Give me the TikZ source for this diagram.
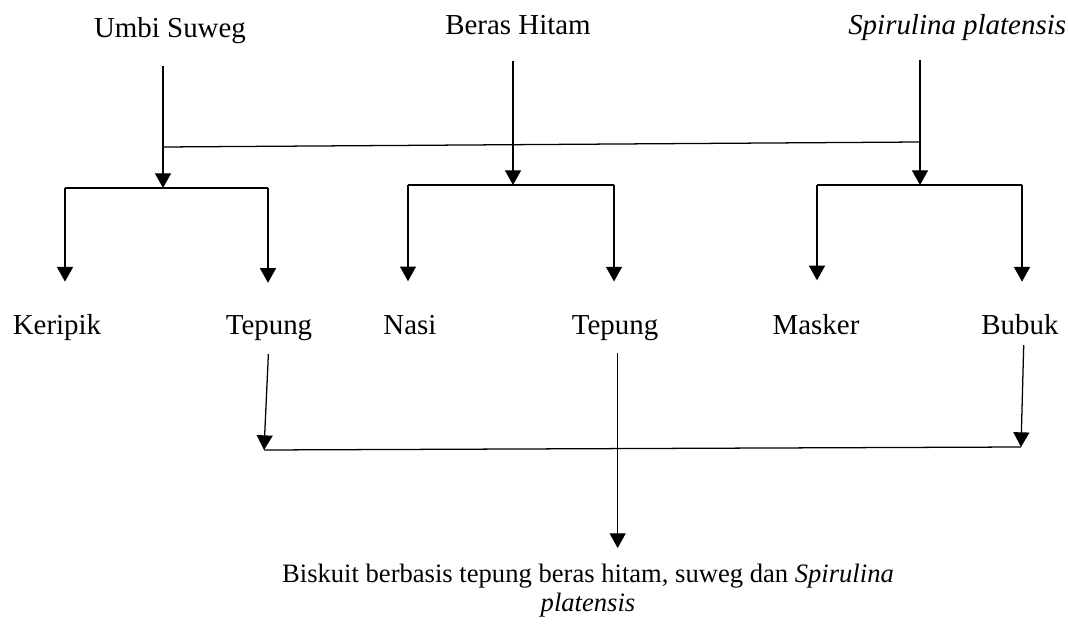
\documentclass[tikz,border=0pt]{standalone}
\usepackage{fontspec}
\setmainfont{Liberation Serif}
\usetikzlibrary{arrows.meta}

\newcommand{\labsize}{\fontsize{21.7}{26}\selectfont}
\newcommand{\botsize}{\fontsize{19.95}{21.75}\selectfont}

\tikzset{
  lab/.style={font=\labsize, inner sep=0pt, anchor=base},
  arr/.style={-{Triangle[width=12pt,length=11pt]}, line width=0.95pt},
  bus/.style={line width=0.95pt},
}

\begin{document}
\begin{tikzpicture}[x=0.75pt,y=-0.75pt]
  \useasboundingbox (0,0) rectangle (1068,624);

  % bahan baku
  \node[lab] (umbi) at (170,38) {Umbi Suweg};
  \node[lab] (beras) at (518,35) {Beras Hitam};
  \node[lab, anchor=base west] (spir) at (848,35) {\textit{Spirulina platensis}};

  % produk
  \node[lab] (keripik) at (57,334) {Keripik};
  \node[lab] (tepA) at (269,334) {Tepung};
  \node[lab] (nasi) at (410,334) {Nasi};
  \node[lab] (tepB) at (615,334) {Tepung};
  \node[lab] (masker) at (816,334) {Masker};
  \node[lab] (bubuk) at (1020,334) {Bubuk};

  \node[font=\botsize, inner sep=0pt, align=center, anchor=north] (biskuit) at (588,564)
    {Biskuit berbasis tepung beras hitam, suweg dan \textit{Spirulina}\\\textit{platensis}};

  % titik cabang
  \coordinate (cu) at (163,147);
  \coordinate (cs) at (920,142);
  \coordinate (ju) at (163,188);
  \coordinate (jb) at (513,185);
  \coordinate (js) at (920,185);
  \coordinate (ku) at (65,188);
  \coordinate (tu) at (268,188);
  \coordinate (nb) at (408,185);
  \coordinate (tb) at (614,185);
  \coordinate (ms) at (817,185);
  \coordinate (bs) at (1022,185);
  \coordinate (ba) at (264,450);
  \coordinate (bb) at (1021,447);

  % dari bahan baku
  \draw[arr, shorten <=16pt] (umbi.south -| ju) -- (ju);
  \draw[arr, shorten <=19pt] (beras.south -| jb) -- (jb);
  \draw[arr, shorten <=14pt] (spir.south -| js) -- (js);
  \draw[bus] (cu) -- (cs);

  \draw[bus] (ku) -- (tu);
  \draw[bus] (nb) -- (tb);
  \draw[bus] (ms) -- (bs);

  \draw[arr, shorten >=24pt] (ku) -- (ku |- keripik.north);
  \draw[arr, shorten >=24pt] (tu) -- (tu |- tepA.north);
  \draw[arr, shorten >=25pt] (nb) -- (nb |- nasi.north);
  \draw[arr, shorten >=25pt] (tb) -- (tb |- tepB.north);
  \draw[arr, shorten >=25pt] (ms) -- (ms |- masker.north);
  \draw[arr, shorten >=24pt] (bs) -- (bs |- bubuk.north);

  % ke biskuit
  \draw[arr, shorten <=10pt] (tepA.south) -- (ba);
  \draw[arr, shorten <=8pt] ([xshift=3pt]bubuk.south) -- (bb);
  \draw[bus] (ba) -- (bb);
  \draw[arr, shorten <=9pt, shorten >=12pt] ([xshift=2pt]tepB.south) -- ([xshift=2pt]tepB.south |- biskuit.north);

\end{tikzpicture}
\end{document}
